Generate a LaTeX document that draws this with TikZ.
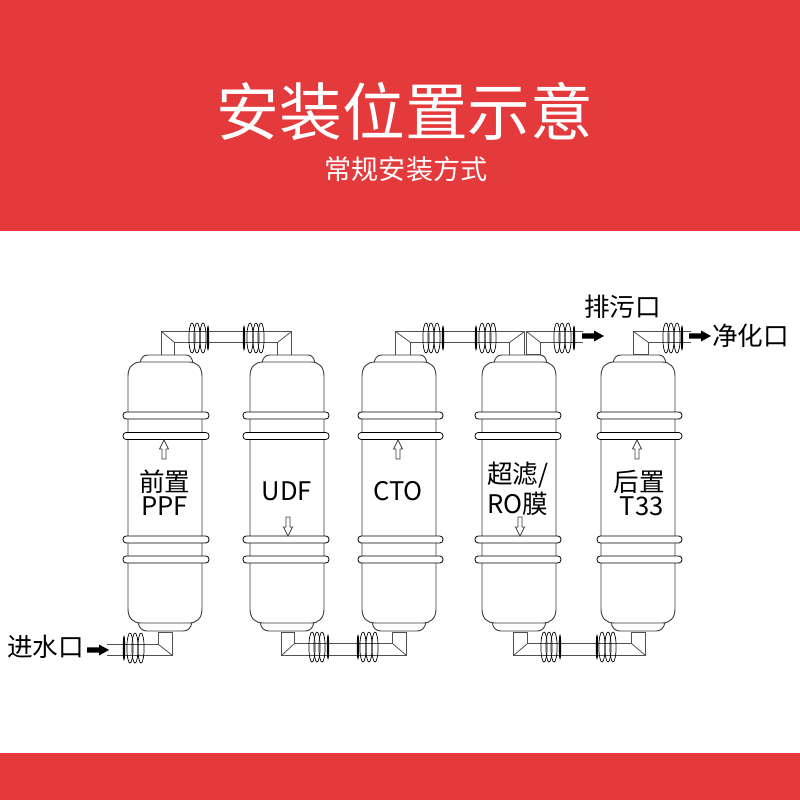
\documentclass[tikz,border=0pt]{standalone}
\usepackage{fontspec}
\setmainfont{Noto Sans CJK SC}
\definecolor{brand}{HTML}{E53A3C}
\definecolor{ink}{HTML}{3A3A3A}
\definecolor{pipeink}{HTML}{505050}
\tikzset{
  shell/.style={draw=ink,line width=0.9pt,fill=white},
  pipe/.style={draw=pipeink,line width=0.8pt,xshift=0.5pt,yshift=-0.5pt},
  hoop/.style={draw=black,line width=0.8pt,rounded corners=3.2pt,fill=white},
  coil/.style={draw=black,line width=0.7pt},
  flowbig/.style={draw=none,fill=black},
  flowsmall/.style={draw=ink,line width=0.7pt,fill=white},
  lbl/.style={inner sep=0pt,font=\fontsize{25.6}{25.6}\selectfont,text=black,align=center},
}
% cartridge: left, right, left band, right band
\newcommand{\cartridge}[4]{
  \path[shell] ({#1+12},363) .. controls ({#1+13},358) and ({#1+15},355) .. ({#1+20},355) -- ({#2-16},355) .. controls ({#2-12},355) and ({#2-10},358) .. ({#2-9},363) -- cycle;
  \path[shell] ({#1+10},622) .. controls ({#1+11},628) and ({#1+14},631) .. ({#1+19},631) -- ({#2-19},631) .. controls ({#2-14},631) and ({#2-11},628) .. ({#2-10},622) -- cycle;
  \path[shell] (#1,376) .. controls (#1,367) and ({#1+5},362) .. ({#1+13},362) -- ({#2-13},362) .. controls ({#2-5},362) and (#2,367) .. (#2,376) -- (#2,609) .. controls (#2,618) and ({#2-5},623) .. ({#2-13},623) -- ({#1+13},623) .. controls ({#1+5},623) and (#1,618) .. (#1,609) -- cycle;
  \foreach \yy in {415.5,436,539.5,559.5} {
    \path[hoop] (#3,\yy-3.5) rectangle (#4,\yy+3.5);
  }
}
% coil: narrow ring, then three rings, at height #5
\newcommand{\coils}[5]{
  \draw[coil,line width=1.1pt] (#1,#5) ellipse [x radius=0.6,y radius=11];
  \foreach \cx in {#2,#3,#4} { \draw[coil] (\cx,#5) ellipse [x radius=3.1,y radius=15]; }
}
\newcommand{\upflow}[2]{
  \path[flowsmall] (#1,#2) -- (#1+4.5,#2+9) -- (#1+2,#2+9) -- (#1+2,#2+19) -- (#1-2,#2+19) -- (#1-2,#2+9) -- (#1-4.5,#2+9) -- cycle;
}
\newcommand{\downflow}[2]{
  \path[flowsmall] (#1,#2+19) -- (#1+4.5,#2+10) -- (#1+2,#2+10) -- (#1+2,#2) -- (#1-2,#2) -- (#1-2,#2+10) -- (#1-4.5,#2+10) -- cycle;
}
\newcommand{\bigflow}[2]{
  \path[flowbig] (#1,#2-2.6) -- (#1+12,#2-2.6) -- (#1+12,#2-5.5) -- (#1+22,#2) -- (#1+12,#2+5.5) -- (#1+12,#2+2.6) -- (#1,#2+2.6) -- cycle;
}
\begin{document}
\begin{tikzpicture}[x=1pt,y=-1pt]
\useasboundingbox (0,0) rectangle (800,800);
\fill[brand] (0,0) rectangle (800,231);
\fill[brand] (0,753) rectangle (800,800);
\node[inner sep=0pt,text=white,font=\fontsize{62.8}{63}\selectfont] (title) at (405,112) {安装位置示意};
\node[inner sep=0pt,text=white,font=\fontsize{27.1}{27}\selectfont] (subtitle) at (406,169) {常规安装方式};

% top fitting 1-2
\draw[pipe] (161,355) -- (161,331) -- (291,331) -- (291,355) -- (277,355) -- (277,342) -- (174,342) -- (174,355) -- cycle;
\draw[pipe] (161,331) -- (174,342) (291,331) -- (277,342);
\coils{208}{192}{197}{203}{338}
\coils{244}{250}{256}{261}{338}

% top fitting 3-4
\draw[pipe] (395,355) -- (395,331) -- (524,331) -- (524,355) -- (509,355) -- (509,342) -- (410,342) -- (410,355) -- cycle;
\draw[pipe] (395,331) -- (410,342) (524,331) -- (509,342);
\coils{443}{426}{431}{437}{338}
\coils{476}{482}{488}{493}{338}

% drain fitting
\draw[pipe] (582,331) -- (526,331) -- (526,354) -- (540,354) -- (540,342) -- (582,342);
\draw[pipe] (526,331) -- (540,342);
\coils{574}{557}{562}{568}{338}
\bigflow{582}{336}

% outlet fitting
\draw[pipe] (690,331) -- (633,331) -- (633,354) -- (648,354) -- (648,342) -- (690,342);
\draw[pipe] (633,331) -- (648,342);
\coils{682}{666}{671}{677}{338}
\bigflow{689}{336}

% inlet fitting
\draw[pipe] (106,644) -- (158,644) -- (158,632) -- (172,632) -- (172,655) -- (106,655);
\draw[pipe] (158,644) -- (172,655);
\coils{124}{130}{135}{141}{648}
\bigflow{87}{650}

% bottom fitting 2-3
\draw[pipe] (281,632) -- (281,655) -- (406,655) -- (406,632) -- (392,632) -- (392,643) -- (294,643) -- (294,632) -- cycle;
\draw[pipe] (281,655) -- (294,643) (406,655) -- (392,643);
\coils{328}{312}{317}{322}{647}
\coils{358}{363}{369}{375}{647}

% bottom fitting 4-5
\draw[pipe] (513,632) -- (513,655) -- (645,655) -- (645,632) -- (631,632) -- (631,643) -- (527,643) -- (527,632) -- cycle;
\draw[pipe] (513,655) -- (527,643) (645,655) -- (631,643);
\coils{560}{544}{549}{554}{647}
\coils{597}{602}{608}{613}{647}

% cartridges
\cartridge{128}{202}{123}{209}
\cartridge{250}{324}{243}{329}
\cartridge{362}{436}{358}{443}
\cartridge{482}{556}{475}{561}
\cartridge{601}{675}{597}{682}

% internal flow
\upflow{164}{440}
\downflow{288}{517}
\upflow{398}{440}
\downflow{520}{517}
\upflow{637}{440}

% labels
\node[lbl] (ppf) at (164.6,493) {前置\\[-1.5pt]PPF};
\node[lbl] (udf) at (287,491) {UDF};
\node[lbl] (cto) at (398,491) {CTO};
\node[lbl] (ro) at (518,489) {超滤/\\[3pt]RO膜};
\node[lbl] (t33) at (639.5,493) {后置\\[-1.5pt]\,T33};
\node[lbl] (inlet) at (45.5,647) {进水口};
\node[lbl] (drain) at (622.5,307) {排污口};
\node[lbl] (clean) at (750.5,336) {净化口};
\end{tikzpicture}
\end{document}
